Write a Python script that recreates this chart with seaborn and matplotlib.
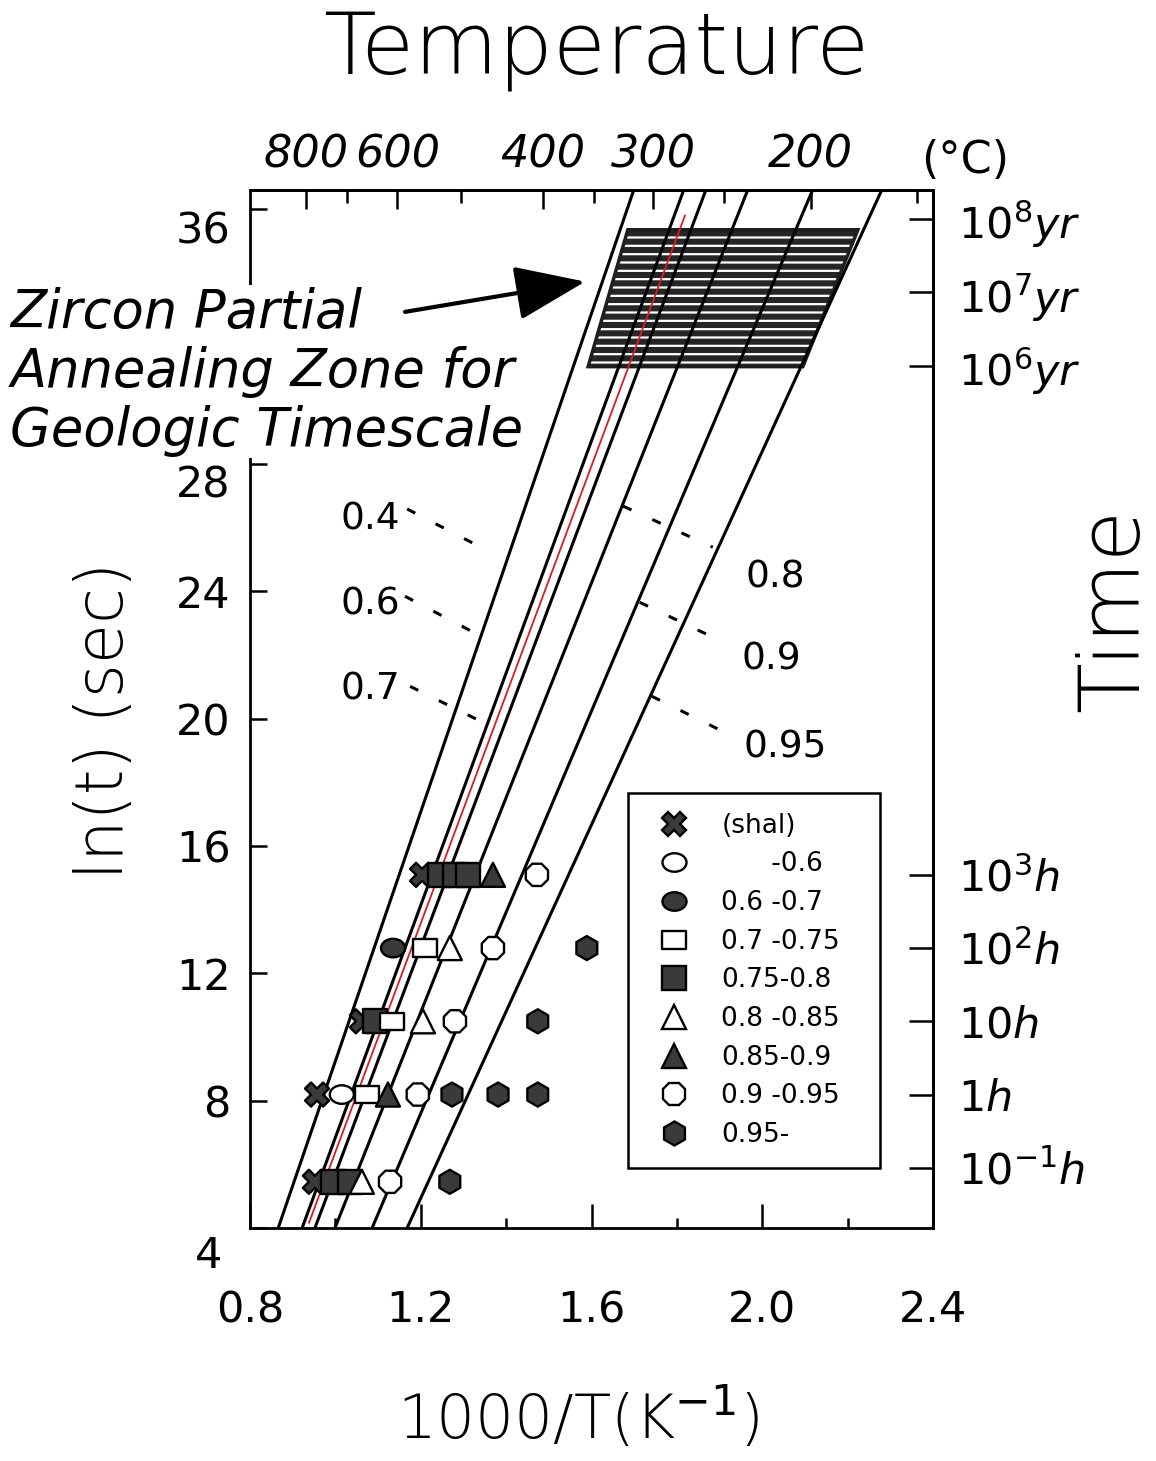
import numpy as np
import pandas as pd
import matplotlib
matplotlib.use("Agg")
import matplotlib.pyplot as plt
import seaborn as sns
from matplotlib.path import Path
from matplotlib.transforms import Affine2D, ScaledTranslation
from matplotlib.ticker import FixedLocator

# ---------------- data ----------------
# iso-annealing lines: 1000/T at ln(t)=4 (bottom) and ln(t)=36.6 (top)
line_x_bottom = [0.866, 0.922, 0.952, 0.999, 1.086, 1.168]
line_x_top = [1.699, 1.816, 1.868, 1.966, 2.118, 2.280]
line_y_ends = [4.0, 36.6]
red_x = [0.938, 1.819]
red_y = [4.16, 35.8]

# partial annealing zone (geologic timescale)
zone_x = [1.592, 1.685, 2.224, 2.095]
zone_y = [31.05, 35.35, 35.35, 31.05]

categories = ["(shal)", "      -0.6", "0.6 -0.7", "0.7 -0.75", "0.75-0.8",
              "0.8 -0.85", "0.85-0.9", "0.9 -0.95", "0.95-"]

pt_x = [1.203, 1.245, 1.280, 1.311, 1.369, 1.472,
        1.135, 1.210, 1.268, 1.369, 1.589,
        1.062, 1.093, 1.133, 1.205, 1.280, 1.474,
        0.957, 1.015, 1.074, 1.123, 1.193, 1.273, 1.381, 1.474,
        0.952, 0.994, 1.034, 1.062, 1.128, 1.268]
pt_y = [15.09] * 6 + [12.79] * 5 + [10.49] * 6 + [8.19] * 8 + [5.45] * 6
pt_cat = ["(shal)", "0.75-0.8", "0.75-0.8", "0.75-0.8", "0.85-0.9", "0.9 -0.95",
          "0.6 -0.7", "0.7 -0.75", "0.8 -0.85", "0.9 -0.95", "0.95-",
          "(shal)", "0.75-0.8", "0.7 -0.75", "0.8 -0.85", "0.9 -0.95", "0.95-",
          "(shal)", "      -0.6", "0.7 -0.75", "0.85-0.9", "0.9 -0.95", "0.95-", "0.95-", "0.95-",
          "(shal)", "0.75-0.8", "0.75-0.8", "0.8 -0.85", "0.9 -0.95", "0.95-"]

# leaders for line labels: (x0, y0, x1, y1)
leader_labels = ["0.4", "0.6", "0.7", "0.8", "0.9", "0.95"]
leader_x0 = [1.168, 1.163, 1.175, 1.674, 1.713, 1.741]
leader_y0 = [26.58, 23.84, 21.01, 26.67, 23.65, 20.70]
leader_x1 = [1.362, 1.350, 1.374, 1.884, 1.908, 1.931]
leader_y1 = [25.23, 22.52, 19.69, 25.38, 22.40, 19.44]
label_x = [1.081, 1.081, 1.081, 2.030, 2.022, 2.053]
label_y = [26.26, 23.59, 20.92, 24.44, 21.86, 19.09]

x_ticks = [0.8, 1.2, 1.6, 2.0, 2.4]
x_minor = [1.0, 1.4, 1.8, 2.2]
y_ticks = [4, 8, 12, 16, 20, 24, 28, 36]
temp_major = [800, 600, 400, 300, 200]
temp_minor = [700, 500, 350, 250, 150]
time_hours = [0.1, 1, 10, 100, 1000]
time_hour_labels = [r"$\mathit{10^{-1}h}$", r"$\mathit{1h}$", r"$\mathit{10h}$",
                    r"$\mathit{10^{2}h}$", r"$\mathit{10^{3}h}$"]
time_years = [1e6, 1e7, 1e8]
time_year_labels = [r"$\mathit{10^{6}yr}$", r"$\mathit{10^{7}yr}$", r"$\mathit{10^{8}yr}$"]

# ---------------- style ----------------
sns.set_style("white")
plt.rcParams["font.family"] = ["DejaVu Sans"]
plt.rcParams["mathtext.fontset"] = "dejavusans"
plt.rcParams["hatch.linewidth"] = 1.6
for k in ["text.color", "axes.labelcolor", "xtick.color", "ytick.color", "axes.edgecolor"]:
    plt.rcParams[k] = "black"

fig = plt.figure(figsize=(11.56, 14.61), dpi=100)
ax = fig.add_axes([0.2163, 0.1595, 0.5908, 0.7105])
ax.set_xlim(0.8, 2.4)
ax.set_ylim(4, 36.6)

dark = "#3a3a3a"

# zone
ax.fill(zone_x, zone_y, facecolor="#262626", edgecolor="white", hatch="--",
        linewidth=0, zorder=1)
ax.fill(zone_x, zone_y, facecolor="none", edgecolor="#1e1e1e", linewidth=2.5, zorder=1.1)

# lines
rows = []
for i, (xb, xt) in enumerate(zip(line_x_bottom, line_x_top)):
    rows.append({"line": i, "x": xb, "y": line_y_ends[0]})
    rows.append({"line": i, "x": xt, "y": line_y_ends[1]})
df_lines = pd.DataFrame(rows)
sns.lineplot(data=df_lines, x="x", y="y", units="line", estimator=None, sort=False,
             color="black", linewidth=2.2, ax=ax, zorder=2)
sns.lineplot(x=red_x, y=red_y, sort=False, color="#d81e1e", linewidth=1.3, ax=ax, zorder=2.1)

# leaders and labels
for lab, x0, y0, x1, y1, tx, ty in zip(leader_labels, leader_x0, leader_y0, leader_x1,
                                       leader_y1, label_x, label_y):
    ax.plot([x0, x1], [y0, y1], color="black", lw=2.2, ls=(0, (3, 7.5)), zorder=2)
    ax.text(tx, ty, lab, fontsize=27, ha="center", va="center", zorder=3)

# markers
ellipse = Path.unit_circle().transformed(Affine2D().scale(1.3, 1.0))
rect = Path.unit_rectangle().transformed(Affine2D().translate(-0.5, -0.5).scale(1.4, 1.0))
marker_map = {"(shal)": "X", "      -0.6": ellipse, "0.6 -0.7": ellipse,
              "0.7 -0.75": rect, "0.75-0.8": "s", "0.8 -0.85": "^",
              "0.85-0.9": "^", "0.9 -0.95": "8", "0.95-": "h"}
color_map = {"(shal)": dark, "      -0.6": "white", "0.6 -0.7": dark,
             "0.7 -0.75": "white", "0.75-0.8": dark, "0.8 -0.85": "white",
             "0.85-0.9": dark, "0.9 -0.95": "white", "0.95-": dark}
df_pts = pd.DataFrame({"x": pt_x, "y": pt_y, "cat": pt_cat})
sns.scatterplot(data=df_pts, x="x", y="y", hue="cat", style="cat",
                hue_order=categories, style_order=categories,
                palette=color_map, markers=marker_map, s=300,
                edgecolor="black", linewidth=1.7, ax=ax, zorder=4)

sns.move_legend(ax, loc="upper left", bbox_to_anchor=(0.553, 0.044, 0.369, 0.375),
                mode="expand", borderaxespad=0, title=None, frameon=True,
                fontsize=19, labelspacing=0.48, borderpad=0.75, handletextpad=0.8,
                handlelength=2.0, fancybox=False, framealpha=1, edgecolor="black")
leg = ax.get_legend()
leg.get_frame().set_linewidth(1.8)
leg.set_zorder(6)

# axes styling
ax.set_xlabel("")
ax.set_ylabel("")
for sp in ax.spines.values():
    sp.set_linewidth(2)
    sp.set_color("black")
ax.set_xticks(x_ticks)
ax.set_xticklabels(["0.8", "1.2", "1.6", "2.0", "2.4"])
ax.xaxis.set_minor_locator(FixedLocator(x_minor))
ax.set_yticks(y_ticks)
ax.set_yticklabels([str(v) for v in y_ticks])
ax.tick_params(axis="x", which="major", direction="in", length=17, width=1.8,
               labelsize=31, pad=44, bottom=True)
ax.tick_params(axis="x", which="minor", direction="in", length=7, width=1.8, bottom=True)
ax.tick_params(axis="y", which="major", direction="in", length=12, width=1.8,
               labelsize=31, pad=14, left=True)

yt = ax.yaxis.get_major_ticks()
yt[0].label1.set_transform(yt[0].label1.get_transform() +
                           ScaledTranslation(-0.08, -0.24, fig.dpi_scale_trans))
yt[6].label1.set_transform(yt[6].label1.get_transform() +
                           ScaledTranslation(0, -0.17, fig.dpi_scale_trans))
yt[-1].label1.set_transform(yt[-1].label1.get_transform() +
                            ScaledTranslation(0, -0.18, fig.dpi_scale_trans))

# top temperature axis
ax_t = ax.twiny()
ax_t.set_xlim(ax.get_xlim())
ax_t.set_xticks(1000.0 / (np.array(temp_major) + 273.15))
ax_t.set_xticklabels([str(t) for t in temp_major], fontstyle="italic")
ax_t.xaxis.set_minor_locator(FixedLocator(1000.0 / (np.array(temp_minor) + 273.15)))
ax_t.tick_params(axis="x", which="major", direction="in", length=14, width=1.8,
                 labelsize=32, pad=10)
ax_t.tick_params(axis="x", which="minor", direction="in", length=9, width=1.8)
for k in ["left", "right", "bottom"]:
    ax_t.spines[k].set_visible(False)
ax_t.spines["top"].set_linewidth(2)

# right time axis
ax_r = ax.twinx()
ax_r.set_ylim(ax.get_ylim())
r_ticks = list(np.log(np.array(time_hours) * 3600.0)) + \
    list(np.log(np.array(time_years) * 3.156e7))
ax_r.set_yticks(r_ticks)
ax_r.set_yticklabels(time_hour_labels + time_year_labels)
ax_r.tick_params(axis="y", direction="in", length=17, width=1.8, labelsize=31, pad=18)
for k in ["left", "top", "bottom"]:
    ax_r.spines[k].set_visible(False)
ax_r.spines["right"].set_linewidth(2)

# annotation text and arrow
ax.text(0.009, 0.7455, "Zircon Partial\nAnnealing Zone for\nGeologic Timescale",
        transform=fig.transFigure, fontsize=38, fontstyle="italic", ha="left",
        va="center", linespacing=1.17, zorder=5,
        bbox=dict(facecolor="white", edgecolor="none", pad=1))
ax.annotate("", xy=(1.585, 33.72), xytext=(1.163, 32.77),
            arrowprops=dict(arrowstyle="-|>,head_length=2.2,head_width=0.85",
                            lw=3, color="black", mutation_scale=20,
                            shrinkA=0, shrinkB=0),
            zorder=7, annotation_clip=False)

# figure texts
fig.text(0.516, 0.966, "Temperature", fontsize=62, ha="center", va="center",
         fontweight="light")
fig.text(0.835, 0.890, "(°C)", fontsize=32, ha="center", va="center")
fig.text(0.9645, 0.5825, "Time", fontsize=60, rotation=90, ha="center", va="center",
         fontweight="light")
fig.text(0.0908, 0.507, "ln(t) (sec)", fontsize=47, rotation=90, ha="center",
         va="center", fontweight="light")
fig.text(0.5, 0.029, r"1000/T(K$^{-1}$)", fontsize=44, ha="center", va="center",
         fontweight="light")

fig.savefig("out.png", dpi=100, facecolor="white")
